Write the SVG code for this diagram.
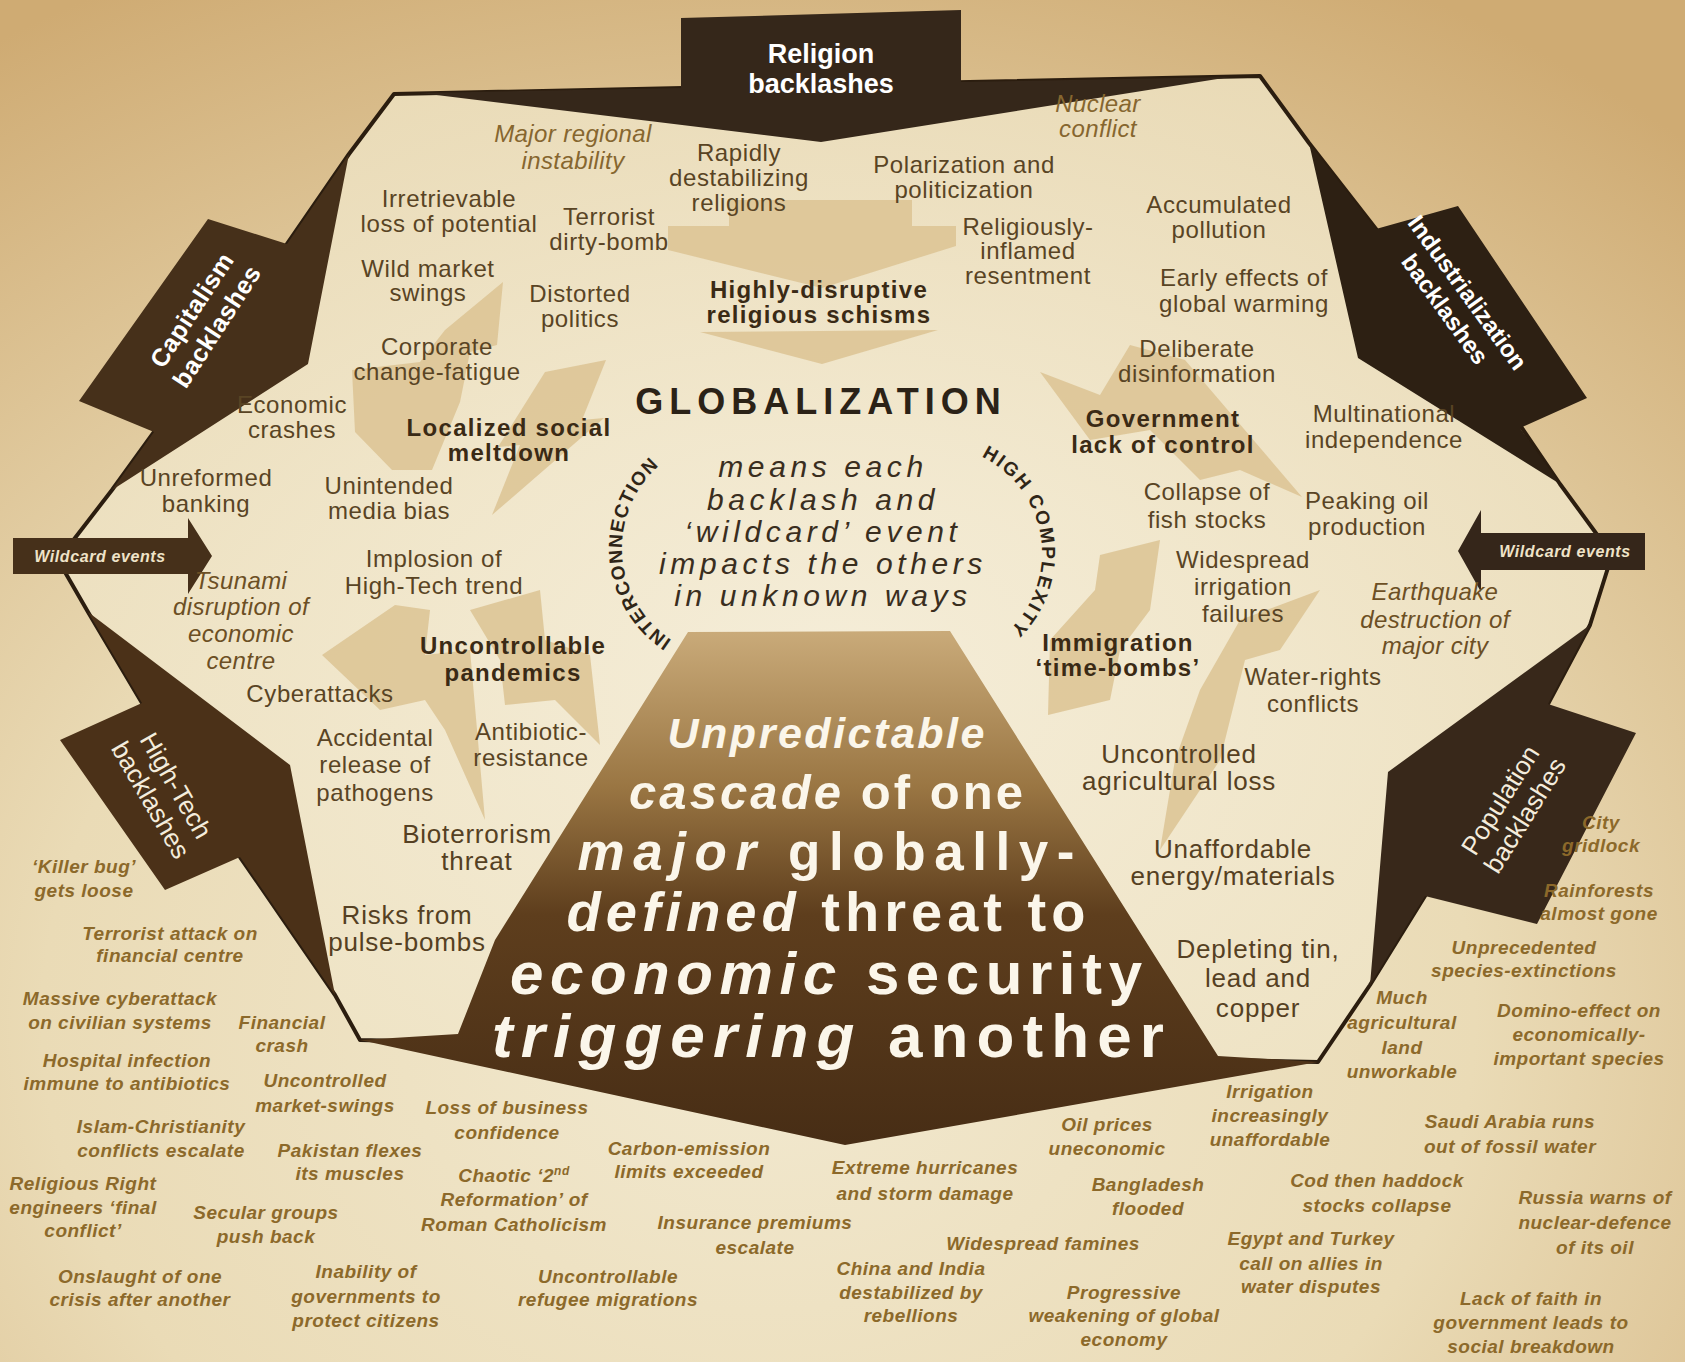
<svg xmlns="http://www.w3.org/2000/svg" width="1685" height="1362" viewBox="0 0 1685 1362">
<defs>
<radialGradient id="bg" cx="0.45" cy="0.75" r="0.85">
<stop offset="0" stop-color="#f2e9d0"/>
<stop offset="0.5" stop-color="#eadbb6"/>
<stop offset="1" stop-color="#cfab73"/>
</radialGradient>
<radialGradient id="inner" cx="0.5" cy="0.55" r="0.6">
<stop offset="0" stop-color="#f6efdc"/>
<stop offset="1" stop-color="#ede1c0"/>
</radialGradient>
<linearGradient id="trap" gradientUnits="userSpaceOnUse" x1="0" y1="632" x2="0" y2="1146">
<stop offset="0" stop-color="#c9aa79"/>
<stop offset="0.3" stop-color="#9a7643"/>
<stop offset="0.55" stop-color="#5e3e1d"/>
<stop offset="1" stop-color="#472d15"/>
</linearGradient>
<style>
.t{font-family:'Liberation Sans',Arial,sans-serif;text-anchor:middle}
.n{font-size:24px;fill:#594424;letter-spacing:.6px}
.n26{font-size:26px;fill:#554022;letter-spacing:.8px}
.b{font-size:24px;font-weight:bold;fill:#3a2a15;letter-spacing:1.3px}
.i{font-size:24px;font-style:italic;fill:#86662f;letter-spacing:.4px}
.i2{font-size:24px;font-style:italic;fill:#6c4f24;letter-spacing:.4px}
.o{font-size:19px;font-style:italic;font-weight:bold;fill:#8c692a;letter-spacing:.5px}
.w{fill:#ffffff;font-weight:bold}
.dark{fill:#46301a}
.bolt{fill:#dcc393;opacity:.85}
.arc{font-family:'Liberation Sans',Arial,sans-serif;font-size:19px;font-weight:bold;fill:#2f2517}
.big{font-family:'Liberation Sans',Arial,sans-serif;font-weight:bold;fill:#fbf6ea;text-anchor:middle}
</style>
</defs>

<g id="background">
<rect width="1685" height="1362" fill="url(#bg)"/>
<polygon points="394,94 1260,76 1309,143 1376,229 1522,428 1560,484 1612,555 1590,625 1548,704 1425,896 1370,985 1318,1062 845,1145 360,1040 335,995 240,857 142,703 88,612 58,560 112,490 154,432 287,244 349,154" fill="url(#inner)" opacity="0.85"/>
</g>

<g id="connectors">
<polygon class="bolt" points="729,200 912,200 912,226 956,226 956,246 822,288 668,250 668,226 729,226"/>
<polygon class="bolt" points="700,332 938,330 822,364"/>
<polygon class="bolt" points="503,282 497,345 470,352 460,402 432,470 392,470 355,432 352,370 420,362 445,330"/>
<polygon class="bolt" points="545,372 606,360 582,420 604,418 492,515 520,445 498,447"/>
<polygon class="bolt" points="322,655 395,605 430,610 425,655 470,650 485,820 445,730 425,700 380,710"/>
<polygon class="bolt" points="470,610 540,590 545,640 590,655 600,745 555,700 505,705 500,660"/>
<polygon class="bolt" points="1040,372 1100,395 1130,345 1185,360 1302,497 1240,470 1200,480 1150,430 1090,440"/>
<polygon class="bolt" points="1048,715 1050,640 1095,590 1100,555 1160,540 1150,610 1120,650 1110,700"/>
<polygon class="bolt" points="1320,590 1280,650 1245,660 1220,760 1160,850 1175,760 1200,690 1240,620"/>
<polygon id="octagon-outline" points="394,94 1260,76 1309,143 1376,229 1522,428 1560,484 1612,555 1590,625 1548,704 1425,896 1370,985 1318,1062 360,1040 335,995 240,857 142,703 88,612 58,560 112,490 154,432 287,244 349,154" fill="none" stroke="#2b1d0f" stroke-width="4" stroke-linejoin="round"/>
</g>

<g id="node-religion">
<polygon fill="#35271a" points="681,18 961,10 961,82 1230,77 821,142 420,93 681,88"/>
<text class="t w" font-size="27"><tspan x="821" y="63">Religion</tspan><tspan x="821" y="93">backlashes</tspan></text>
</g>

<g id="node-capitalism">
<polygon class="dark" points="349,154 308,364 112,490 154,432 79,401 208,219 287,244"/>
<g transform="translate(204,318) rotate(-57)"><text class="t w" font-size="25" letter-spacing="0.5"><tspan x="0" y="-6">Capitalism</tspan><tspan x="0" y="24">backlashes</tspan></text></g>
</g>

<g id="node-industrialization">
<polygon fill="#2d2013" points="1309,143 1358,358 1560,484 1520,428 1587,398 1458,206 1376,229"/>
<g transform="translate(1456,301) rotate(54)"><text class="t w" font-size="24"><tspan x="0" y="-6">Industrialization</tspan><tspan x="0" y="22">backlashes</tspan></text></g>
</g>

<g id="node-hightech">
<polygon fill="#4b3118" points="88,612 290,765 335,995 240,857 165,890 60,740 142,703"/>
<g transform="translate(163,793) rotate(60)"><text class="t" font-size="26" fill="#f4ecdc"><tspan x="0" y="-6">High-Tech</tspan><tspan x="0" y="23">backlashes</tspan></text></g>
</g>

<g id="node-population">
<polygon fill="#38281a" points="1590,625 1388,772 1370,985 1425,896 1537,924 1636,733 1548,704"/>
<g transform="translate(1513,808) rotate(-58)"><text class="t" font-size="26" fill="#f4ecdc"><tspan x="0" y="-6">Population</tspan><tspan x="0" y="23">backlashes</tspan></text></g>
</g>

<g id="node-wildcard-left">
<polygon fill="#46301a" points="13,538 188,538 188,518 212,556 188,594 188,574 13,574"/>
<text class="t" x="100" y="562" font-size="16" font-style="italic" font-weight="bold" fill="#efe3c8" letter-spacing="0.6">Wildcard events</text>
</g>

<g id="node-wildcard-right">
<polygon fill="#35261a" points="1645,533 1481,533 1481,510 1458,551 1481,592 1481,570 1645,570"/>
<text class="t" x="1565" y="557" font-size="16" font-style="italic" font-weight="bold" fill="#efe3c8" letter-spacing="0.6">Wildcard events</text>
</g>

<g id="node-cascade">
<polygon fill="url(#trap)" points="688,632 950,631 1218,1056 1318,1062 845,1145 360,1040 458,1034 495,940"/>
<text class="big" x="826" y="748" font-size="43" textLength="317" lengthAdjust="spacing"><tspan font-style="italic">Unpredictable</tspan></text>
<text class="big" x="826" y="809" font-size="49" textLength="394" lengthAdjust="spacing"><tspan font-style="italic">cascade</tspan> of one</text>
<text class="big" x="826" y="870" font-size="53" textLength="497" lengthAdjust="spacing"><tspan font-style="italic">major</tspan> globally-</text>
<text class="big" x="826" y="931" font-size="56" textLength="519" lengthAdjust="spacing"><tspan font-style="italic">defined</tspan> threat to</text>
<text class="big" x="826" y="994" font-size="60" textLength="632" lengthAdjust="spacing"><tspan font-style="italic">economic</tspan> security</text>
<text class="big" x="828" y="1057" font-size="62" textLength="672" lengthAdjust="spacing"><tspan font-style="italic">triggering</tspan> another</text>
</g>

<g id="node-globalization">
<text class="t" x="821" y="414" font-size="36" font-weight="bold" fill="#2b2217" letter-spacing="6">GLOBALIZATION</text>
<text class="t" font-size="30" font-style="italic" fill="#3a2e1e" letter-spacing="4.6"><tspan x="823" y="477">means each</tspan><tspan x="823" y="510">backlash and</tspan><tspan x="823" y="542">‘wildcard’ event</tspan><tspan x="823" y="574">impacts the others</tspan><tspan x="823" y="606">in unknown ways</tspan></text>
<path id="arcL" d="M 680.4,645.1 A 110 110 0 0 1 667.3,459" fill="none"/>
<path id="arcR" d="M 971.6,452.5 A 107 107 0 0 1 1000.9,637.3" fill="none"/>
<text class="arc" letter-spacing="1.2"><textPath href="#arcL" startOffset="50%" text-anchor="middle">INTERCONNECTION</textPath></text>
<text class="arc" letter-spacing="2"><textPath href="#arcR" startOffset="50%" text-anchor="middle">HIGH COMPLEXITY</textPath></text>
</g>

<g id="inner-items">
<g id="n1"><text class="t i"><tspan x="573" y="142">Major regional</tspan><tspan x="573" y="169">instability</tspan></text></g>
<g id="n2"><text class="t n"><tspan x="739" y="161">Rapidly</tspan><tspan x="739" y="186">destabilizing</tspan><tspan x="739" y="211">religions</tspan></text></g>
<g id="n3"><text class="t i"><tspan x="1098" y="112">Nuclear</tspan><tspan x="1098" y="137">conflict</tspan></text></g>
<g id="n4"><text class="t n"><tspan x="964" y="173">Polarization and</tspan><tspan x="964" y="198">politicization</tspan></text></g>
<g id="n5"><text class="t n"><tspan x="449" y="207">Irretrievable</tspan><tspan x="449" y="232">loss of potential</tspan></text></g>
<g id="n6"><text class="t n"><tspan x="609" y="225">Terrorist</tspan><tspan x="609" y="250">dirty-bomb</tspan></text></g>
<g id="n7"><text class="t n"><tspan x="1028" y="235">Religiously-</tspan><tspan x="1028" y="259">inflamed</tspan><tspan x="1028" y="284">resentment</tspan></text></g>
<g id="n8"><text class="t n"><tspan x="1219" y="213">Accumulated</tspan><tspan x="1219" y="238">pollution</tspan></text></g>
<g id="n9"><text class="t n"><tspan x="428" y="277">Wild market</tspan><tspan x="428" y="301">swings</tspan></text></g>
<g id="n10"><text class="t n"><tspan x="580" y="302">Distorted</tspan><tspan x="580" y="327">politics</tspan></text></g>
<g id="n11"><text class="t b"><tspan x="819" y="298">Highly-disruptive</tspan><tspan x="819" y="323">religious schisms</tspan></text></g>
<g id="n12"><text class="t n"><tspan x="1244" y="286">Early effects of</tspan><tspan x="1244" y="312">global warming</tspan></text></g>
<g id="n13"><text class="t n"><tspan x="437" y="355">Corporate</tspan><tspan x="437" y="380">change-fatigue</tspan></text></g>
<g id="n14"><text class="t n"><tspan x="1197" y="357">Deliberate</tspan><tspan x="1197" y="382">disinformation</tspan></text></g>
<g id="n15"><text class="t b"><tspan x="509" y="436">Localized social</tspan><tspan x="509" y="461">meltdown</tspan></text></g>
<g id="n16"><text class="t n"><tspan x="292" y="413">Economic</tspan><tspan x="292" y="438">crashes</tspan></text></g>
<g id="n17"><text class="t b"><tspan x="1163" y="427">Government</tspan><tspan x="1163" y="453">lack of control</tspan></text></g>
<g id="n18"><text class="t n"><tspan x="1384" y="422">Multinational</tspan><tspan x="1384" y="448">independence</tspan></text></g>
<g id="n19"><text class="t n"><tspan x="206" y="486">Unreformed</tspan><tspan x="206" y="512">banking</tspan></text></g>
<g id="n20"><text class="t n"><tspan x="389" y="494">Unintended</tspan><tspan x="389" y="519">media bias</tspan></text></g>
<g id="n21"><text class="t n"><tspan x="1207" y="500">Collapse of</tspan><tspan x="1207" y="528">fish stocks</tspan></text></g>
<g id="n22"><text class="t n"><tspan x="1367" y="509">Peaking oil</tspan><tspan x="1367" y="535">production</tspan></text></g>
<g id="n23"><text class="t n" font-size="25"><tspan x="434" y="567">Implosion of</tspan><tspan x="434" y="594">High-Tech trend</tspan></text></g>
<g id="n24"><text class="t n" font-size="25"><tspan x="1243" y="568">Widespread</tspan><tspan x="1243" y="595">irrigation</tspan><tspan x="1243" y="622">failures</tspan></text></g>
<g id="n25"><text class="t i2"><tspan x="241" y="589">Tsunami</tspan><tspan x="241" y="615">disruption of</tspan><tspan x="241" y="642">economic</tspan><tspan x="241" y="669">centre</tspan></text></g>
<g id="n26"><text class="t i2"><tspan x="1435" y="600">Earthquake</tspan><tspan x="1435" y="628">destruction of</tspan><tspan x="1435" y="654">major city</tspan></text></g>
<g id="n27"><text class="t b"><tspan x="513" y="654">Uncontrollable</tspan><tspan x="513" y="681">pandemics</tspan></text></g>
<g id="n28"><text class="t b"><tspan x="1118" y="651">Immigration</tspan><tspan x="1118" y="676">‘time-bombs’</tspan></text></g>
<g id="n29"><text class="t n" font-size="25"><tspan x="1313" y="685">Water-rights</tspan><tspan x="1313" y="712">conflicts</tspan></text></g>
<g id="n30"><text class="t n" font-size="25"><tspan x="320" y="702">Cyberattacks</tspan></text></g>
<g id="n31"><text class="t n" font-size="25"><tspan x="375" y="746">Accidental</tspan><tspan x="375" y="773">release of</tspan><tspan x="375" y="801">pathogens</tspan></text></g>
<g id="n32"><text class="t n" font-size="25"><tspan x="531" y="740">Antibiotic-</tspan><tspan x="531" y="766">resistance</tspan></text></g>
<g id="n33"><text class="t n26"><tspan x="1179" y="763">Uncontrolled</tspan><tspan x="1179" y="790">agricultural loss</tspan></text></g>
<g id="n34"><text class="t n26"><tspan x="477" y="843">Bioterrorism</tspan><tspan x="477" y="870">threat</tspan></text></g>
<g id="n35"><text class="t n26" font-size="27"><tspan x="1233" y="858">Unaffordable</tspan><tspan x="1233" y="885">energy/materials</tspan></text></g>
<g id="n36"><text class="t n26" font-size="27"><tspan x="407" y="924">Risks from</tspan><tspan x="407" y="951">pulse-bombs</tspan></text></g>
<g id="n37"><text class="t n26" font-size="27"><tspan x="1258" y="958">Depleting tin,</tspan><tspan x="1258" y="987">lead and</tspan><tspan x="1258" y="1017">copper</tspan></text></g>
</g>

<g id="outer-items">
<g id="o1"><text class="t o" font-size="17"><tspan x="84" y="873">‘Killer bug’</tspan><tspan x="84" y="897">gets loose</tspan></text></g>
<g id="o2"><text class="t o"><tspan x="170" y="940">Terrorist attack on</tspan><tspan x="170" y="962">financial centre</tspan></text></g>
<g id="o3"><text class="t o"><tspan x="120" y="1005">Massive cyberattack</tspan><tspan x="120" y="1029">on civilian systems</tspan></text></g>
<g id="o4"><text class="t o"><tspan x="282" y="1029">Financial</tspan><tspan x="282" y="1052">crash</tspan></text></g>
<g id="o5"><text class="t o"><tspan x="127" y="1067">Hospital infection</tspan><tspan x="127" y="1090">immune to antibiotics</tspan></text></g>
<g id="o6"><text class="t o"><tspan x="325" y="1087">Uncontrolled</tspan><tspan x="325" y="1112">market-swings</tspan></text></g>
<g id="o7"><text class="t o"><tspan x="507" y="1114">Loss of business</tspan><tspan x="507" y="1139">confidence</tspan></text></g>
<g id="o8"><text class="t o"><tspan x="161" y="1133">Islam-Christianity</tspan><tspan x="161" y="1157">conflicts escalate</tspan></text></g>
<g id="o9"><text class="t o"><tspan x="1107" y="1131">Oil prices</tspan><tspan x="1107" y="1155">uneconomic</tspan></text></g>
<g id="o10"><text class="t o"><tspan x="1510" y="1128">Saudi Arabia runs</tspan><tspan x="1510" y="1153">out of fossil water</tspan></text></g>
<g id="o11"><text class="t o"><tspan x="350" y="1157">Pakistan flexes</tspan><tspan x="350" y="1180">its muscles</tspan></text></g>
<g id="o12"><text class="t o"><tspan x="689" y="1155">Carbon-emission</tspan><tspan x="689" y="1178">limits exceeded</tspan></text></g>
<g id="o13"><text class="t o"><tspan x="514" y="1182">Chaotic ‘2<tspan font-size="12" dy="-7">nd</tspan></tspan><tspan x="514" y="1206">Reformation’ of</tspan><tspan x="514" y="1231">Roman Catholicism</tspan></text></g>
<g id="o14"><text class="t o"><tspan x="925" y="1174">Extreme hurricanes</tspan><tspan x="925" y="1200">and storm damage</tspan></text></g>
<g id="o15"><text class="t o"><tspan x="1148" y="1191">Bangladesh</tspan><tspan x="1148" y="1215">flooded</tspan></text></g>
<g id="o16"><text class="t o"><tspan x="1377" y="1187">Cod then haddock</tspan><tspan x="1377" y="1212">stocks collapse</tspan></text></g>
<g id="o17"><text class="t o"><tspan x="83" y="1190">Religious Right</tspan><tspan x="83" y="1214">engineers ‘final</tspan><tspan x="83" y="1237">conflict’</tspan></text></g>
<g id="o18"><text class="t o"><tspan x="266" y="1219">Secular groups</tspan><tspan x="266" y="1243">push back</tspan></text></g>
<g id="o19"><text class="t o"><tspan x="755" y="1229">Insurance premiums</tspan><tspan x="755" y="1254">escalate</tspan></text></g>
<g id="o20"><text class="t o"><tspan x="1595" y="1204">Russia warns of</tspan><tspan x="1595" y="1229">nuclear-defence</tspan><tspan x="1595" y="1254">of its oil</tspan></text></g>
<g id="o21"><text class="t o"><tspan x="1043" y="1250">Widespread famines</tspan></text></g>
<g id="o22"><text class="t o"><tspan x="1311" y="1245">Egypt and Turkey</tspan><tspan x="1311" y="1270">call on allies in</tspan><tspan x="1311" y="1293">water disputes</tspan></text></g>
<g id="o23"><text class="t o"><tspan x="911" y="1275">China and India</tspan><tspan x="911" y="1299">destabilized by</tspan><tspan x="911" y="1322">rebellions</tspan></text></g>
<g id="o24"><text class="t o"><tspan x="140" y="1283">Onslaught of one</tspan><tspan x="140" y="1306">crisis after another</tspan></text></g>
<g id="o25"><text class="t o"><tspan x="366" y="1278">Inability of</tspan><tspan x="366" y="1303">governments to</tspan><tspan x="366" y="1327">protect citizens</tspan></text></g>
<g id="o26"><text class="t o"><tspan x="608" y="1283">Uncontrollable</tspan><tspan x="608" y="1306">refugee migrations</tspan></text></g>
<g id="o27"><text class="t o"><tspan x="1124" y="1299">Progressive</tspan><tspan x="1124" y="1322">weakening of global</tspan><tspan x="1124" y="1346">economy</tspan></text></g>
<g id="o28"><text class="t o"><tspan x="1531" y="1305">Lack of faith in</tspan><tspan x="1531" y="1329">government leads to</tspan><tspan x="1531" y="1353">social breakdown</tspan></text></g>
<g id="o29"><text class="t o" font-size="17"><tspan x="1601" y="829">City</tspan><tspan x="1601" y="852">gridlock</tspan></text></g>
<g id="o30"><text class="t o" font-size="17"><tspan x="1599" y="897">Rainforests</tspan><tspan x="1599" y="920">almost gone</tspan></text></g>
<g id="o31"><text class="t o" font-size="18"><tspan x="1524" y="954">Unprecedented</tspan><tspan x="1524" y="977">species-extinctions</tspan></text></g>
<g id="o32"><text class="t o"><tspan x="1402" y="1004">Much</tspan><tspan x="1402" y="1029">agricultural</tspan><tspan x="1402" y="1054">land</tspan><tspan x="1402" y="1078">unworkable</tspan></text></g>
<g id="o33"><text class="t o"><tspan x="1579" y="1017">Domino-effect on</tspan><tspan x="1579" y="1041">economically-</tspan><tspan x="1579" y="1065">important species</tspan></text></g>
<g id="o34"><text class="t o"><tspan x="1270" y="1098">Irrigation</tspan><tspan x="1270" y="1122">increasingly</tspan><tspan x="1270" y="1146">unaffordable</tspan></text></g>
</g>
</svg>
